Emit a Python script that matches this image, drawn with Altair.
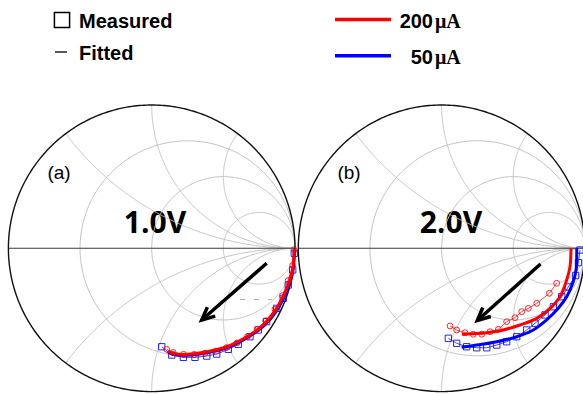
import altair as alt
import numpy as np
import pandas as pd

W, H = 583, 394

# ---- Smith chart grid values ----
resistance_circles = [1/3, 1.0, 3.0]
reactance_arcs = [0.5, 1.0, 2.0]

# ---- text ----
legend_markers = ["Measured", "Fitted"]
legend_currents = ["200", "50"]
current_unit = "μA"
panel_tags = ["(a)", "(b)"]
bias_labels = ["1.0V", "2.0V"]

# ---- (a) 1.0 V : reflection coefficient (Re, Im) ----
a_fit200_re = [0.995, 0.981, 0.943, 0.865, 0.779, 0.663, 0.523, 0.384, 0.244, 0.151, 0.116]
a_fit200_im = [-0.005, -0.163, -0.279, -0.431, -0.535, -0.617, -0.687, -0.722, -0.740, -0.733, -0.717]
a_fit50_re = [0.995, 0.984, 0.948, 0.870, 0.782, 0.665, 0.524, 0.384, 0.244, 0.150, 0.112]
a_fit50_im = [-0.008, -0.168, -0.285, -0.438, -0.542, -0.624, -0.694, -0.729, -0.747, -0.740, -0.722]
a_meas200_re = [0.993, 0.983, 0.952, 0.912, 0.860, 0.795, 0.735, 0.670, 0.596, 0.522, 0.447, 0.372, 0.297, 0.222, 0.150, 0.105]
a_meas200_im = [-0.010, -0.120, -0.225, -0.330, -0.425, -0.505, -0.565, -0.615, -0.660, -0.693, -0.718, -0.732, -0.740, -0.740, -0.727, -0.705]
a_meas50_re = [0.995, 0.984, 0.953, 0.918, 0.872, 0.802, 0.744, 0.686, 0.604, 0.535, 0.454, 0.384, 0.302, 0.221, 0.140, 0.070]
a_meas50_im = [-0.035, -0.151, -0.256, -0.349, -0.419, -0.512, -0.570, -0.617, -0.670, -0.705, -0.738, -0.752, -0.761, -0.761, -0.745, -0.687]

# ---- (b) 2.0 V ----
b_fit200_re = [0.903, 0.896, 0.873, 0.826, 0.756, 0.664, 0.547, 0.408, 0.268, 0.142]
b_fit200_im = [0.000, -0.128, -0.221, -0.338, -0.419, -0.489, -0.535, -0.575, -0.593, -0.600]
b_fit50_re = [0.943, 0.938, 0.915, 0.873, 0.814, 0.733, 0.640, 0.524, 0.385, 0.245, 0.140]
b_fit50_im = [0.000, -0.151, -0.244, -0.338, -0.419, -0.500, -0.570, -0.617, -0.652, -0.675, -0.691]
b_meas200_re = [0.803, 0.752, 0.664, 0.605, 0.559, 0.512, 0.454, 0.396, 0.338, 0.280, 0.221, 0.163, 0.105, 0.059]
b_meas200_im = [-0.244, -0.314, -0.384, -0.419, -0.442, -0.484, -0.512, -0.565, -0.582, -0.600, -0.600, -0.589, -0.570, -0.542]
b_meas50_re = [0.966, 0.955, 0.935, 0.884, 0.838, 0.780, 0.722, 0.652, 0.594, 0.524, 0.454, 0.385, 0.315, 0.245, 0.175, 0.105, 0.047]
b_meas50_im = [-0.012, -0.100, -0.190, -0.270, -0.338, -0.408, -0.465, -0.523, -0.570, -0.617, -0.652, -0.675, -0.694, -0.694, -0.687, -0.663, -0.628]

# ---- layout (pixels) ----
R_PX = 143.3
CY = 248.3
CX_A = 151.7
CX_B = 441.6
YDOM = [(CY - H) / R_PX, CY / R_PX]
XDOM_A = [-CX_A / R_PX, (W - CX_A) / R_PX]
XDOM_B = [-CX_B / R_PX, (W - CX_B) / R_PX]

RED = "#ff0000"
BLUE = "#0000ff"


# ---- grid geometry ----
def grid_frames():
    rows = []
    th = np.linspace(0, 2 * np.pi, 361)
    for i, r in enumerate(resistance_circles):
        c, rad = r / (1 + r), 1 / (1 + r)
        for k, t in enumerate(th):
            rows.append(dict(g=f"r{i}", k=k, re=c + rad * np.cos(t), im=rad * np.sin(t)))
    s = np.tan(np.linspace(0, np.pi / 2 - 1e-3, 300))
    for i, xv in enumerate(reactance_arcs):
        for sgn in (1, -1):
            z = s + 1j * sgn * xv
            g = (z - 1) / (z + 1)
            for k, gg in enumerate(g):
                rows.append(dict(g=f"x{i}{sgn}", k=k, re=gg.real, im=gg.imag))
    grid = pd.DataFrame(rows)
    outer = pd.DataFrame(dict(k=range(361), re=np.cos(th), im=np.sin(th)))
    axis = pd.DataFrame(dict(k=[0, 1], re=[-1.0, 1.0], im=[0.0, 0.0]))
    return grid, outer, axis


grid_df, outer_df, axis_df = grid_frames()


def sdf(re, im):
    return pd.DataFrame(dict(re=re, im=im, k=range(len(re))))


def enc(xdom):
    return dict(
        x=alt.X("re:Q", scale=alt.Scale(domain=xdom, nice=False, zero=False), axis=None),
        y=alt.Y("im:Q", scale=alt.Scale(domain=YDOM, nice=False, zero=False), axis=None),
        order=alt.Order("k:Q"),
    )


def panel(xdom, fit200, fit50, meas200, meas50):
    e = enc(xdom)
    layers = [
        alt.Chart(grid_df).mark_line(color="#c2c2c2", strokeWidth=1).encode(detail="g:N", **e),
        alt.Chart(axis_df).mark_line(color="#3a3a3a", strokeWidth=1.1).encode(**e),
        alt.Chart(outer_df).mark_line(color="#111111", strokeWidth=1.4).encode(**e),
        alt.Chart(sdf(*fit50)).mark_line(color=BLUE, strokeWidth=3, interpolate="catmull-rom").encode(**e),
        alt.Chart(sdf(*meas50)).mark_line(color=BLUE, strokeWidth=0.9, opacity=0.8).encode(**e),
        alt.Chart(sdf(*meas50)).mark_point(shape="square", filled=False, color=BLUE, size=40,
                                            strokeWidth=1, opacity=0.85).encode(**e),
        alt.Chart(sdf(*fit200)).mark_line(color=RED, strokeWidth=3, interpolate="catmull-rom").encode(**e),
        alt.Chart(sdf(*meas200)).mark_line(color=RED, strokeWidth=0.9, opacity=0.8).encode(**e),
        alt.Chart(sdf(*meas200)).mark_point(shape="circle", filled=False, color=RED, size=34,
                                             strokeWidth=1, opacity=0.85).encode(**e),
    ]
    return layers


def txt(s, x, y, size, weight="normal", font="Liberation Sans", align="left"):
    return alt.Chart().mark_text(
        align=align, baseline="alphabetic", font=font, fontSize=size, fontWeight=weight, color="black"
    ).encode(x=alt.value(x), y=alt.value(y), text=alt.value(s))


def arrow(x1, y1, x2, y2):
    ang = float(np.degrees(np.arctan2(y2 - y1, x2 - x1)))
    shaft = alt.Chart().mark_rule(color="black", strokeWidth=3.5, strokeCap="butt").encode(
        x=alt.value(x1), y=alt.value(y1), x2=alt.value(x2), y2=alt.value(y2))
    head = alt.Chart().mark_point(
        shape="M -1 -0.47 L 0 0 L -1 0.47", filled=False, color="black", strokeWidth=3.5,
        size=650, angle=(ang + 360) % 360, opacity=1, strokeJoin="miter"
    ).encode(x=alt.value(x2), y=alt.value(y2))
    return [shaft, head]


labels = [
    txt(bias_labels[0], 155, 233, 30, "bold", "Open Sans", "center"),
    txt(bias_labels[1], 451, 233, 30, "bold", "Open Sans", "center"),
    txt(panel_tags[0], 59, 178.5, 19, align="center"),
    txt(panel_tags[1], 349, 178.5, 19, align="center"),
]

layers_a = panel(XDOM_A, (a_fit200_re, a_fit200_im), (a_fit50_re, a_fit50_im),
                 (a_meas200_re, a_meas200_im), (a_meas50_re, a_meas50_im))
layers_b = panel(XDOM_B, (b_fit200_re, b_fit200_im), (b_fit50_re, b_fit50_im),
                 (b_meas200_re, b_meas200_im), (b_meas50_re, b_meas50_im))

artifact = alt.Chart().mark_rule(color="#a9a4e6", strokeWidth=1.2, strokeDash=[5, 9]).encode(
    x=alt.value(240), x2=alt.value(272), y=alt.value(299.5))

legend = [
    alt.Chart().mark_point(shape="square", filled=False, color="black", size=230, strokeWidth=1.5,
                           opacity=1).encode(x=alt.value(62), y=alt.value(20)),
    txt(legend_markers[0], 79, 27.5, 20, "bold"),
    alt.Chart().mark_rule(color="black", strokeWidth=1.3).encode(
        x=alt.value(55), x2=alt.value(67), y=alt.value(52)),
    txt(legend_markers[1], 79, 60, 20, "bold"),
    alt.Chart().mark_rule(color=RED, strokeWidth=3.5).encode(
        x=alt.value(335), x2=alt.value(391), y=alt.value(19.5)),
    alt.Chart().mark_rule(color=BLUE, strokeWidth=3.5).encode(
        x=alt.value(335), x2=alt.value(391), y=alt.value(55.7)),
    txt(legend_currents[0], 433, 27.5, 20, "bold", align="right"),
    txt(current_unit, 435, 27.5, 20, "bold", "Liberation Serif"),
    txt(legend_currents[1], 433, 63.5, 20, "bold", align="right"),
    txt(current_unit, 435, 63.5, 20, "bold", "Liberation Serif"),
]

all_layers = (labels + layers_a + [artifact] + layers_b
              + arrow(266.7, 263.3, 201.7, 320) + arrow(540.5, 264, 477.3, 320.5) + legend)

chart = alt.layer(*all_layers).resolve_scale(x="independent").properties(
    width=W, height=H, padding=0, autosize=alt.AutoSizeParams(type="none"), background="white"
).configure_view(stroke=None)

chart.save("out.html", embed_options={"renderer": "svg", "actions": False})
